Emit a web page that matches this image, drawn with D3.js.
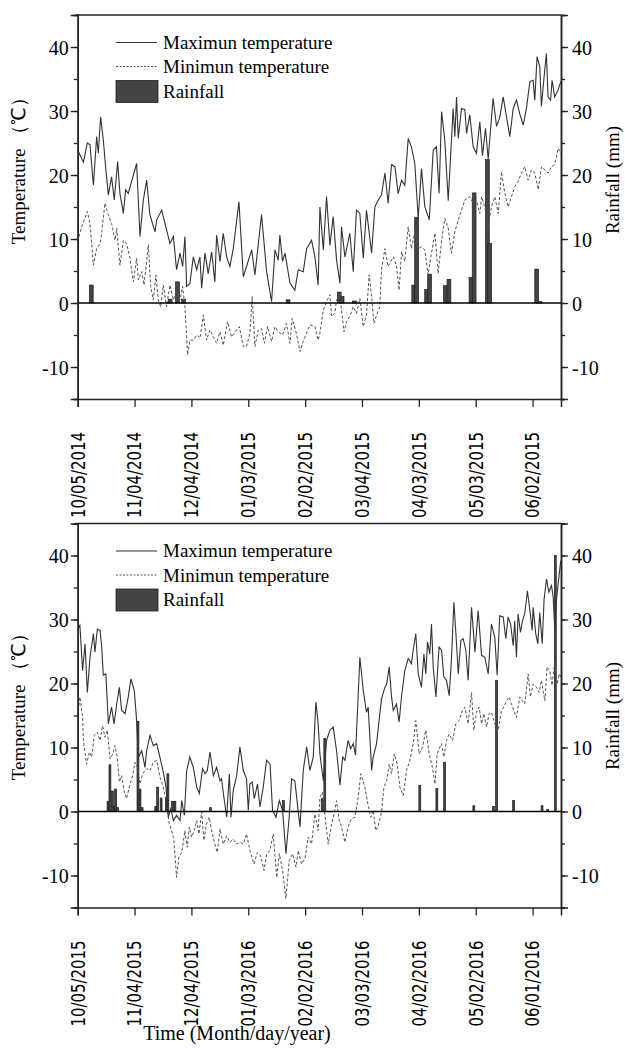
<!DOCTYPE html>
<html>
<head>
<meta charset="utf-8">
<script src="https://cdn.jsdelivr.net/npm/d3@7"></script>
<style>
  body { margin: 0; background: #fff; }
  svg { display: block; }
  .serif { font-family: "Liberation Serif", "Times New Roman", serif; fill: #000; }
  .date { font-family: "DejaVu Sans Condensed", "DejaVu Sans", sans-serif; fill: #000; }
</style>
</head>
<body>
<div id="chart"></div>
<script>

// tick labels of the two seasons (month/day/year)
var ticks_2014 = ["10/05/2014", "11/04/2014", "12/04/2014", "01/03/2015", "02/02/2015",
                  "03/04/2015", "04/03/2015", "05/03/2015", "06/02/2015"]
var ticks_2015 = ["10/05/2015", "11/04/2015", "12/04/2015", "01/03/2016", "02/02/2016",
                  "03/03/2016", "04/02/2016", "05/02/2016", "06/01/2016"]

var temp_ticks = [-10, 0, 10, 20, 30, 40]

// series are [days after 10/05, value]
var max_2014 = [[0,23.9],[3,22],[5.1,25],[6.5,24.7],[8.3,18.4],[10,26],[10.9,23.4],[12.1,29.1],[13.5,25.5],[14.9,20.8],[16.2,16.9],[17.9,19.7],[19.3,16.1],[21.1,22.1],[22.3,17.1],[24.1,14],[25.3,17.7],[26.7,17.1],[29.4,20],[31.1,21.8],[32.9,10.4],[34.6,16],[36.4,19.2],[38.1,13.8],[40.8,11.1],[41.7,13],[44.3,14.5],[46.1,12.4],[48.7,9.3],[50.5,10.4],[52.2,5.2],[54,7.8],[55.4,5.7],[56.6,10.4],[57.5,2.6],[59.2,3],[61,7.2],[62.8,5.2],[64.5,7.2],[65.4,2.3],[67.2,7.8],[68.9,4.6],[70.7,8],[72.4,3.3],[73.3,10.6],[75.1,6.5],[76.8,10.9],[78.6,7.2],[80.3,5.7],[82.1,8.5],[85.1,15.8],[87.4,4.1],[89.1,5.7],[91.8,8.3],[93.5,4.4],[97,13.8],[99.7,4.9],[102.3,0.2],[104.1,8.3],[105.8,6.7],[106.7,10.6],[108.1,6.5],[109.4,7.8],[112,3.1],[114.6,2],[116.4,5.2],[119,4.9],[120.8,8.5],[123.4,9.8],[125.2,7.2],[126.9,2.8],[127.8,15],[129.6,8.3],[131.3,16.6],[133.1,9],[134.8,13.5],[136.6,6.7],[138.4,3.1],[139.2,11.9],[141,7.2],[143.6,10.9],[145.4,4.9],[147.1,14.5],[148.9,14],[150.7,7],[152.4,14.5],[155.1,7.8],[156.8,15],[158.6,16.1],[160.3,16.9],[162.1,20.3],[163.8,15.6],[165.6,21.6],[167.4,21.3],[169.1,17.1],[170.9,19.2],[172.6,18.4],[174.4,25.7],[176.1,24.4],[177.9,21.8],[179.7,13.2],[181.4,21],[183.2,15],[185.5,13],[187.6,23.9],[189.3,24.4],[190.7,17.1],[192,29.9],[193.7,25.5],[195.5,16],[198.1,30.4],[199,26],[199.9,32.2],[200.8,25.7],[202.5,30.4],[204.3,30.2],[205.2,26.5],[206.9,29.4],[208.7,24.4],[210.4,23.4],[212.2,28.3],[213.6,23],[215.2,27.3],[216.6,22.5],[219.2,32],[221,27.6],[222.7,29],[224.5,32.2],[226.3,29],[228,26],[229.8,30.4],[231.5,31.7],[233.3,29.5],[235.1,27.8],[236.8,30.5],[238.6,34.6],[240.3,34.8],[241.2,31.7],[242.4,38.5],[243.8,36.9],[244.7,30.7],[245.6,33.8],[247.3,39],[248.2,32.2],[249.5,31.7],[250.3,34.8],[251.7,32.2],[253.5,33.3],[254.9,34.6]]

var min_2014 = [[0,9.6],[2.1,11.9],[5.1,14.3],[6.5,12.4],[8.3,5.9],[10,8.5],[11.8,9.3],[12.7,10.9],[14.4,15.6],[16.2,13.8],[17.9,12.4],[19.7,9.8],[20.6,11.7],[22.3,5.9],[24.1,9.8],[25.8,9.3],[27.6,7],[29.4,3.3],[31.1,7],[32,3.6],[33.8,4.9],[35,2.8],[37.3,9.1],[38.5,2.6],[39.9,0.5],[41.3,4.4],[42.5,0.5],[43.8,-0.6],[45.2,2.8],[46.9,-0.6],[48.7,2.8],[50.5,0.5],[51.9,1.8],[54,0.5],[55.4,2.6],[56.6,-0.6],[58,-8.1],[59.2,-5.8],[61,-5.8],[62.8,-5],[64.5,-5.5],[66.3,-1.9],[68,-5.8],[69.8,-4.2],[71.6,-5.3],[73.3,-6.3],[75.1,-4.5],[76.8,-6.6],[79.1,-2.9],[81.2,-5.3],[83,-4.5],[85.3,-3.7],[87.4,-6.8],[89.1,-6.8],[90.9,-4.7],[92.1,1],[93.5,-6.8],[95.3,-4.2],[97,-4],[98.5,-6.3],[100.2,-3.7],[102.3,-6],[104.1,-3.7],[105.8,-4.5],[108.1,-5],[110.2,-3.2],[112,-6.3],[113.2,-2.4],[115.2,-4.5],[117.3,-7.6],[119,-6],[120.8,-4.7],[122.5,-3.4],[125.2,-3.7],[126.9,-5.8],[127.8,-4.7],[129.6,-1.1],[131.3,0.2],[133.1,1.3],[134,-2.1],[135.7,-1.6],[136.6,0.5],[138.4,1],[139.2,-1.1],[140.5,-4.5],[141.9,-2.9],[143.6,-2.1],[145.4,-0.6],[147.1,-1.6],[148.9,0.7],[150.7,-3.7],[152.4,-1.9],[153.8,4.4],[155.1,1],[156.3,-3.2],[157.7,-1.9],[159.4,-0.6],[160.3,5.2],[162.1,8.5],[163.8,5.7],[166.5,7.2],[168.2,5.9],[169.6,2],[170.9,8],[172.6,6.5],[174.4,11.9],[176.1,8.5],[177.9,11.1],[179.7,8.5],[181.4,8.8],[183.2,8.3],[184.9,4.4],[186.7,7.8],[188.5,10.9],[190.2,4.6],[192,9.8],[193.7,13.2],[195.5,11.7],[197.2,7.8],[199,11.1],[200.8,13],[202.5,14.5],[204.3,16.1],[206.9,16.6],[208.7,15.6],[210.4,16],[212.2,14],[213.1,16.6],[214.8,15],[216.6,11.9],[218.3,15],[220.1,16.6],[221.9,14],[223.6,20.5],[225.4,17.1],[227.1,15],[228.9,16.6],[230.6,18.2],[232.4,19],[234.2,20.3],[235.9,21.3],[237.7,19.2],[239.4,20.8],[241.2,20.3],[243,17.7],[244.7,21.3],[246.5,20.8],[248.2,20.3],[250,21.3],[251.7,21.6],[253.5,24.2],[254.9,23.4]]

var rain_2014 = [[7.2,2.8],[48.8,0.6],[52.7,3.3],[55.8,0.6],[111,0.5],[138,1.7],[139.5,1],[146,0.3],[177.3,2.8],[178.8,13.4],[184.1,2.1],[185.7,4.5],[194,2.7],[195.9,3.7],[207.5,4],[209.2,17.2],[216.2,22.4],[217.4,9.3],[242.2,5.3],[244,0.2]]

var max_2015 = [[0,28.5],[1.2,29.1],[2.6,22],[3.9,26.2],[5.1,18.6],[6.5,24.1],[8.3,27.8],[9.1,24.9],[10.4,28.5],[11.8,28.3],[12.7,25.7],[13.5,21.3],[14.9,21.5],[16.2,13.7],[17.9,16.3],[19.2,13.7],[20.6,16.8],[22,19.4],[23.2,15.8],[25,15.3],[26.7,17.9],[28.1,20.7],[29.9,18.9],[31.1,14.2],[32,8.5],[33.8,9.5],[35.5,6.9],[36.4,9.5],[38.2,11.9],[39.9,10.3],[41.7,10.6],[43.4,8.5],[45.2,6.1],[46.6,3.8],[47.8,-0.9],[49.1,0.4],[50.5,-1.4],[52.2,-0.6],[54,-1.4],[54.9,1.7],[56.3,-0.6],[57.5,6.4],[59.2,8.5],[61,6.9],[62.8,3.8],[64.2,2.8],[65.9,6.7],[67.2,5.9],[68.4,6.4],[69.8,9.3],[71.6,5.6],[73.3,6.9],[75.1,4.8],[75.9,5.1],[76.8,3],[78.6,-0.9],[80,5.9],[80.9,-0.9],[82.1,3.3],[83.9,5.6],[85.6,10.1],[87.4,6.4],[89.1,5.1],[90,0.2],[90.9,4.3],[92.1,4.6],[93.2,2],[94.9,4.3],[96.2,0.7],[97.9,3.8],[99.7,8],[101.5,7.4],[102.8,0.2],[104.6,-0.9],[106.4,1.7],[108.1,0.2],[109.9,-6.6],[111.6,-0.9],[112.9,5.1],[114.6,4.8],[116.4,-0.1],[117.3,-2.4],[119,6.4],[120.8,10.1],[122.5,6.4],[124.3,8.5],[125.7,17.1],[126.9,13.7],[127.8,9],[129.6,4.8],[131.3,11.1],[133.1,12.7],[134.8,13.2],[136.6,9.5],[138.4,4.1],[139.8,8.5],[141,8],[142.7,11.1],[144,9.8],[145.4,10.6],[146.6,8.8],[148.9,24.1],[150.7,18.9],[152.4,15.5],[153.3,16.3],[155.1,6.4],[155.9,8.5],[157.7,10.6],[160.3,17.6],[162.1,19.4],[163,19.9],[164.4,22.6],[165.6,17.9],[166.5,15.8],[168.2,16.8],[169.6,14],[170.9,18],[172.6,22],[174.4,23.9],[176.1,23.1],[177,25.2],[178.4,27.8],[179.7,21.5],[181.4,19.4],[182.7,24.6],[183.7,21.5],[184.6,26.5],[185.8,24.6],[186.7,29.3],[187.6,22.6],[189,17.9],[190.7,25.7],[192,25.2],[193.2,21],[194.6,20.5],[196,18.1],[197.2,23.6],[198.5,32.7],[199.9,26.2],[200.8,21.5],[202.2,26.7],[203.4,27],[204.8,25.2],[206,20.5],[207.8,31.9],[209.6,24.9],[211.3,31.4],[213.1,24.4],[214.8,24.1],[216.6,21.5],[218.3,29.3],[220.1,27.2],[221.3,21.3],[222.7,30.6],[224.5,30.4],[225.9,27],[227.1,30.4],[228.4,29.3],[229.8,25.9],[230.6,29.8],[231.5,24.1],[232.4,30.9],[233.6,28],[234.7,29.8],[235.9,30.9],[237.3,34.5],[238.6,31.4],[239.8,28.3],[240.3,31.9],[241.7,27.8],[242.8,26.2],[243.8,31.1],[245.1,26.2],[246.1,33.2],[247.4,36.3],[248.6,34.3],[250,35.3],[250.9,33.5],[251.7,28.8],[252.6,33],[253.5,35.6],[254.9,39.2]]

var min_2015 = [[0,15],[1.2,17.9],[2.6,14.7],[3,11.1],[4.7,7.4],[6.2,9.3],[7.4,8.5],[8.8,11.9],[10.4,12.4],[11.8,11.1],[13.2,13.4],[14.4,11.6],[15.6,12.7],[17.1,8.2],[18.5,9],[19.7,10.3],[20.9,8.5],[22,4.6],[23.2,5.6],[24.4,3.3],[25.8,2],[27.6,4.3],[29,5.6],[30.2,7.7],[31.5,6.9],[32.9,4.3],[34.3,5.9],[36.4,6.7],[38.2,6.4],[39.9,7.7],[41.7,8],[43.4,5.4],[45.2,3.8],[46.9,1.2],[48.3,-1.9],[49.6,-3],[50.8,-4.5],[52.2,-10.3],[53.4,-7.1],[54.9,-6.4],[56.6,-3],[57.8,-5.6],[58.9,-2.4],[60.1,-4],[61.5,-3],[62.8,-1.4],[64,-3.5],[65.4,-0.1],[66.6,-4.5],[68,-1.9],[69.4,-0.9],[70.7,-3],[72.4,-5.1],[73.7,-6.4],[75.1,-2.7],[76.8,-5.1],[78.6,-3.8],[80.3,-4.8],[82.1,-4.3],[83.9,-5.1],[85.6,-4.8],[87.4,-5.1],[89.1,-3.5],[90.9,-6.1],[93,-8.2],[94.8,-6.4],[96.5,-6.9],[98.3,-9.2],[99.7,-6.6],[101.4,-6.1],[103.2,-3.5],[105,-10.3],[106.4,-6.6],[108.1,-9.2],[109.9,-13.6],[111.6,-7.7],[113.4,-6.6],[115.2,-8.7],[116.4,-6.1],[118.1,-8.2],[119.9,-7.4],[121.7,-4],[123.4,-5.1],[125.2,-0.4],[126.9,-3],[127.8,2.2],[129.2,3],[130.4,-0.4],[132.2,-5.1],[134,-1.9],[135.7,0.2],[136.6,1.7],[138,-1.4],[139.2,-2.4],[141,-4.8],[142.7,-2.4],[144.5,-1.1],[146.3,-0.9],[148,2.2],[149.4,5.9],[151.5,3.8],[153.3,0.9],[154.7,-0.9],[155.9,0.2],[157.3,-3],[158.6,-2.2],[160.3,-0.1],[161.6,3.8],[163,4.8],[164.4,7.4],[165.6,5.9],[167,9],[168.6,7.4],[170,3.8],[171.8,2.5],[173.5,6.4],[175.3,8],[177,10.6],[178.4,14.2],[180.2,9],[182,10.1],[183.7,12.7],[185.5,9],[187.2,6.9],[188.5,4.3],[189.7,9],[190.7,9.8],[192,10.6],[193.2,8.5],[194.6,11.1],[196,12.1],[197.8,11.1],[199.5,13.7],[201.3,14.2],[203,15.8],[204.3,16.3],[206,13.7],[207.8,18.6],[209,12.7],[210.4,15.5],[211.8,16.3],[213.1,13.7],[214.3,15.3],[215.7,13.2],[217.1,15.3],[218.3,15.5],[220.1,13.7],[221.9,12.7],[223.6,15.8],[224.8,16.3],[226.3,17.3],[227.7,17.9],[228.9,16.8],[230.1,15.8],[231.5,14.7],[233.3,17.9],[234.7,17.3],[235.9,16.8],[237.7,21.5],[238.9,17.9],[240.3,19.9],[242.1,19.4],[243.5,18.6],[244.7,20.5],[246.5,17.3],[247.7,22.6],[249.1,22],[250.3,19.7],[251.7,23.3],[253,19.9],[254,21.5],[254.9,21]]

var rain_2015 = [[16,1.6],[17,7.3],[18.3,3.2],[19.2,0.8],[20,3.5],[21,0.6],[31.8,14.1],[32.9,3.5],[34,0.6],[41.2,0.8],[42.2,3.8],[44,2.1],[46.8,2.1],[47.6,5.9],[50,1.6],[51.3,1.6],[70,0.6],[108.6,1.7],[129,2],[130.4,11.4],[180.5,4.1],[189.5,3.6],[193.6,7.7],[209,0.9],[219.3,0.8],[221,20.5],[230,1.7],[245,0.9],[248,0.3],[252,40]]


var parse_date = d3.timeParse("%m/%d/%Y")

var width = 625, height = 1050
var left = 77.7, right = 561
var serif = "'Liberation Serif', 'Times New Roman', serif"

var svg = d3.select("#chart").append("svg")
  .attr("width", width)
  .attr("height", height)


// draw one of the two panels
function draw_panel(p){

  var start = parse_date(p.ticks[0])
  var x = d3.scaleTime()
    .domain([start, d3.timeDay.offset(start, 255)])
    .range([left, right])

  var y = d3.scaleLinear()
    .domain([-15, 45])
    .range([p.bottom, p.top])

  var day = function(d){ return x(d3.timeHour.offset(start, d[0] * 24)) }

  var g = svg.append("g")

  // rainfall bars
  var bar_w = x(d3.timeDay.offset(start, p.bar_days)) - x(start)
  g.selectAll(".bar")
    .data(p.rain)
    .enter().append("rect")
      .attr("x", function(d){ return day(d) - bar_w / 2 })
      .attr("y", function(d){ return y(d[1]) })
      .attr("width", bar_w)
      .attr("height", function(d){ return y(0) - y(d[1]) })
      .attr("fill", "#444")
      .attr("stroke", "#1e1e1e")
      .attr("stroke-width", 0.7)

  var line = d3.line()
    .x(day)
    .y(function(d){ return y(d[1]) })

  // minimum temperature, dashed
  g.append("path")
    .datum(p.min)
    .attr("d", line)
    .attr("fill", "none")
    .attr("stroke", "#555")
    .attr("stroke-width", 1)
    .attr("stroke-dasharray", "3,2")

  // maximum temperature, solid
  g.append("path")
    .datum(p.max)
    .attr("d", line)
    .attr("fill", "none")
    .attr("stroke", "#333")
    .attr("stroke-width", 1.1)

  // zero line
  g.append("line")
    .attr("x1", left).attr("x2", right)
    .attr("y1", y(0)).attr("y2", y(0))
    .attr("stroke", "#000")
    .attr("stroke-width", 1.6)

  // top border
  g.append("line")
    .attr("x1", left - 2).attr("x2", right)
    .attr("y1", p.top).attr("y2", p.top)
    .attr("stroke", "#222")
    .attr("stroke-width", 1.5)

  // left and right axes, major and minor ticks
  var y_left = g.append("g")
    .attr("transform", "translate(" + left + ",0)")
    .call(d3.axisLeft(y).tickValues(d3.range(-15, 46, 5)).tickSize(4).tickFormat(""))
  y_left.append("g")
    .call(d3.axisLeft(y).tickValues(temp_ticks).tickSize(7).tickPadding(2).tickFormat(function(d){ return String(d) }))

  var y_right = g.append("g")
    .attr("transform", "translate(" + right + ",0)")
    .call(d3.axisRight(y).tickValues(d3.range(-15, 46, 5)).tickSize(4).tickFormat(""))
  y_right.append("g")
    .call(d3.axisRight(y).tickValues(temp_ticks).tickSize(7).tickPadding(4).tickFormat(function(d){ return String(d) }))

  // bottom time axis
  g.append("g")
    .attr("transform", "translate(0," + p.bottom + ")")
    .call(d3.axisBottom(x).tickValues(p.ticks.map(parse_date)).tickSize(8).tickFormat(""))

  g.selectAll(".domain").attr("stroke", "#222").attr("stroke-width", 1.5)
  g.selectAll(".tick line").attr("stroke", "#222").attr("stroke-width", 1.3)
  g.selectAll(".tick text")
    .style("font-family", serif)
    .style("font-size", "20px")
    .attr("fill", "#000")
    .attr("dy", "0.36em")

  // rotated date labels
  g.selectAll(".date")
    .data(p.ticks)
    .enter().append("text")
      .attr("class", "date")
      .attr("transform", function(d){ return "translate(" + x(parse_date(d)) + "," + (p.bottom + 33) + ") rotate(-90)" })
      .attr("text-anchor", "end")
      .attr("dy", "0.36em")
      .attr("textLength", 86)
      .attr("lengthAdjust", "spacingAndGlyphs")
      .style("font-size", "19px")
      .text(function(d){ return d })

  // axis titles
  g.append("text")
    .attr("class", "serif")
    .attr("transform", "translate(25," + p.left_title + ") rotate(-90)")
    .attr("text-anchor", "middle")
    .style("font-size", "19px")
    .text("Temperature （℃）")

  g.append("text")
    .attr("class", "serif")
    .attr("transform", "translate(619," + p.right_title + ") rotate(-90)")
    .attr("text-anchor", "middle")
    .style("font-size", "19px")
    .text("Rainfall (mm)")

  // legend
  var legend = g.append("g")
    .attr("transform", "translate(116," + p.top + ")")

  legend.append("line")
    .attr("x1", 0).attr("x2", 41).attr("y1", 27.5).attr("y2", 27.5)
    .attr("stroke", "#333").attr("stroke-width", 1.1)
  legend.append("line")
    .attr("x1", 0).attr("x2", 41).attr("y1", 51.5).attr("y2", 51.5)
    .attr("stroke", "#555").attr("stroke-width", 1).attr("stroke-dasharray", "2,1.5")
  legend.append("rect")
    .attr("x", 0).attr("y", 65.5).attr("width", 42).attr("height", 22)
    .attr("fill", "#444").attr("stroke", "#1e1e1e").attr("stroke-width", 0.8)

  legend.selectAll(".legend-text")
    .data(["Maximun temperature", "Minimun temperature", "Rainfall"])
    .enter().append("text")
      .attr("class", "serif")
      .attr("x", 47)
      .attr("y", function(d, i){ return 33.5 + i * 24.5 })
      .style("font-size", "19px")
      .text(function(d){ return d })
}


// initialize both panels
function initialize_charts(){

  draw_panel({ticks: ticks_2014, max: max_2014, min: min_2014, rain: rain_2014,
              top: 15, bottom: 399, bar_days: 2, left_title: 166, right_title: 180})

  draw_panel({ticks: ticks_2015, max: max_2015, min: min_2015, rain: rain_2015,
              top: 523.5, bottom: 907.5, bar_days: 1.2, left_title: 702, right_title: 716})

  svg.append("text")
    .attr("class", "serif")
    .attr("x", 237)
    .attr("y", 1040)
    .attr("text-anchor", "middle")
    .style("font-size", "20px")
    .text("Time (Month/day/year)")
}

initialize_charts()

</script>
</body>
</html>
